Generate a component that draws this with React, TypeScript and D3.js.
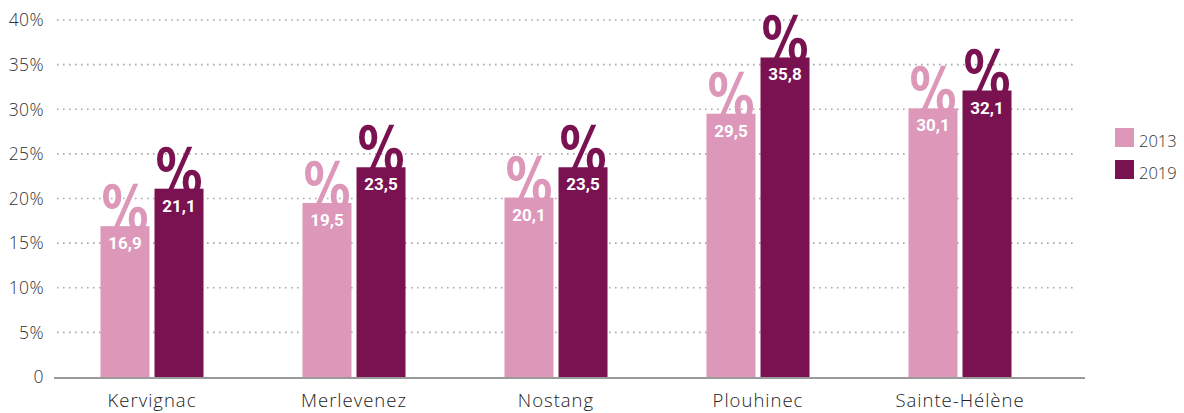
import React from "react";
import * as d3 from "d3";

const categories = ["Kervignac", "Merlevenez", "Nostang", "Plouhinec", "Sainte-Hélène"];
const years = ["2013", "2019"];
const values2013 = [16.9, 19.5, 20.1, 29.5, 30.1];
const values2019 = [21.1, 23.5, 23.5, 35.8, 32.1];
const yTicks = [0, 5, 10, 15, 20, 25, 30, 35, 40];
const colors = ["#dc97b9", "#7a1151"];

const W = 1184;
const H = 413;

export default function App() {
  const x0 = d3.scaleBand<string>().domain(categories).range([51, 1061]).paddingInner(0.49).paddingOuter(0.245);
  const x1 = d3.scaleBand<string>().domain(years).range([0, x0.bandwidth()]).paddingInner(0.093).paddingOuter(0);
  const y = d3.scaleLinear().domain([0, 40]).range([377, 20]);
  const series = [values2013, values2019];
  const fmt = (v: number) => v.toFixed(1).replace(".", ",");
  const labelFont = "'Open Sans', Roboto, sans-serif";
  const boldFont = "Roboto, 'DejaVu Sans', sans-serif";

  return (
    <svg width={W} height={H} style={{ position: "absolute", left: 0, top: 0 }}>
      <rect width={W} height={H} fill="#fff" />
      {yTicks.map((t) => (
        <g key={t}>
          {t > 0 && (
            <line x1={57} x2={1076} y1={y(t)} y2={y(t)} stroke="#a8a8a8" strokeWidth={1.6} strokeDasharray="1.6 4.4" />
          )}
          <text x={44} y={y(t)} dy="0.36em" textAnchor="end" fontSize={17.5} fontWeight={300} fill="#333" fontFamily={labelFont} letterSpacing={0.4}>
            {t === 0 ? "0" : `${t}%`}
          </text>
        </g>
      ))}
      {categories.map((c, i) => (
        <g key={c} transform={`translate(${x0(c)},0)`}>
          {years.map((yr, j) => {
            const v = series[j][i];
            const bx = x1(yr)!;
            const bw = x1.bandwidth();
            const top = y(v);
            return (
              <g key={yr}>
                <text
                  x={bx + bw / 2}
                  y={top + 5}
                  textAnchor="middle"
                  fontSize={64}
                  fontWeight={700}
                  fill={colors[j]}
                  fontFamily="'DejaVu Sans', sans-serif"
                  textLength={47}
                  lengthAdjust="spacingAndGlyphs"
                >
                  %
                </text>
                <rect x={bx} y={top} width={bw} height={y(0) - top} fill={colors[j]} />
                <text x={bx + bw / 2} y={top + 23} textAnchor="middle" fontSize={17} fontWeight={700} fill="#fff" fontFamily={boldFont}>
                  {fmt(v)}
                </text>
              </g>
            );
          })}
          <text x={x0.bandwidth() / 2} y={407} textAnchor="middle" fontSize={18.5} fontWeight={300} fill="#222" fontFamily={labelFont} letterSpacing={1}>
            {c}
          </text>
        </g>
      ))}
      <line x1={54} x2={1085} y1={378} y2={378} stroke="#9a9a9a" strokeWidth={2} />
      {years.map((yr, j) => (
        <g key={yr} transform={`translate(1115,${128 + j * 32})`}>
          <rect width={19} height={19} fill={colors[j]} />
          <text x={24} y={19} fontSize={16.5} fontWeight={300} fill="#333" fontFamily={labelFont}>
            {yr}
          </text>
        </g>
      ))}
    </svg>
  );
}
